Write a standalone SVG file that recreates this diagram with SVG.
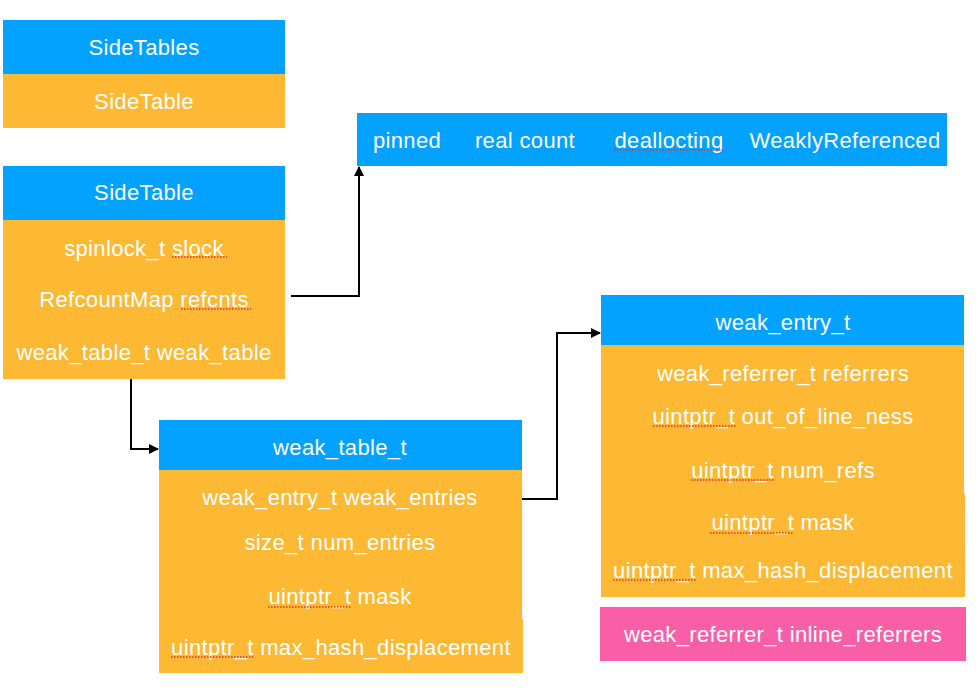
<svg xmlns="http://www.w3.org/2000/svg" width="980" height="698" viewBox="0 0 980 698">
<defs>
<style>
.b{fill:#02A2FE}
.o{fill:#FDB933}
.p{fill:#F85FA6}
text{font-family:"Liberation Sans",Arial,sans-serif;font-size:22px;letter-spacing:0.35px;fill:#fff;text-anchor:middle;dominant-baseline:central}
.sp{stroke:#E8332E;stroke-width:1.4;stroke-dasharray:1.5 1.5;fill:none}
.c{stroke:#000;stroke-width:2;fill:none}
</style>
<marker id="ah" viewBox="0 0 10 10" refX="9" refY="5" markerWidth="5" markerHeight="5" orient="auto-start-reverse" markerUnits="strokeWidth">
<path d="M0,0 L10,5 L0,10 z" fill="#000"/>
</marker>
</defs>
<rect width="980" height="698" fill="#fff"/>
<g id="sidetables">
<rect class="b" x="3" y="20" width="282" height="54"/>
<rect class="o" x="3" y="74" width="282" height="54"/>
<text x="144" y="47">SideTables</text>
<text x="144" y="101">SideTable</text>
</g>
<g id="sidetable">
<rect class="b" x="3" y="166" width="282" height="54"/>
<rect class="o" x="3" y="220" width="282" height="159"/>
<text x="144" y="192">SideTable</text>
<text x="144" y="248">spinlock_t slock</text>
<text x="144" y="299">RefcountMap refcnts</text>
<text x="144" y="352">weak_table_t weak_table</text>
<line class="sp" x1="172" y1="257" x2="227" y2="257"/>
<line class="sp" x1="181" y1="309" x2="251" y2="309"/>
</g>
<g id="bits">
<rect class="b" x="357" y="113" width="590" height="53"/>
<text x="407" y="140">pinned</text>
<text x="525" y="140">real count</text>
<text x="669" y="140">deallocting</text>
<text x="845" y="140">WeaklyReferenced</text>
<line class="sp" x1="614" y1="150" x2="724" y2="150"/>
</g>
<g id="weak_table_t">
<rect class="b" x="159" y="420" width="363" height="50"/>
<rect class="o" x="159" y="470" width="363" height="150"/>
<rect class="o" x="159" y="619" width="364" height="54"/>
<text x="340" y="447">weak_table_t</text>
<text x="340" y="497">weak_entry_t weak_entries</text>
<text x="340" y="542">size_t num_entries</text>
<text x="340" y="596">uintptr_t mask</text>
<text x="341" y="647">uintptr_t max_hash_displacement</text>
<line class="sp" x1="268" y1="607" x2="351" y2="607"/>
<line class="sp" x1="171" y1="657" x2="253" y2="657"/>
</g>
<g id="weak_entry_t">
<rect class="b" x="601" y="295" width="363" height="50"/>
<rect class="o" x="601" y="345" width="363" height="160"/>
<rect class="o" x="601" y="494" width="364" height="103"/>
<text x="783" y="322">weak_entry_t</text>
<text x="783" y="373">weak_referrer_t referrers</text>
<text x="783" y="416">uintptr_t out_of_line_ness</text>
<text x="783" y="470">uintptr_t num_refs</text>
<text x="783" y="522">uintptr_t mask</text>
<text x="783" y="570">uintptr_t max_hash_displacement</text>
<line class="sp" x1="653" y1="426" x2="737" y2="426"/>
<line class="sp" x1="691" y1="480" x2="774" y2="480"/>
<line class="sp" x1="710" y1="533" x2="793" y2="533"/>
<line class="sp" x1="613" y1="580" x2="696" y2="580"/>
</g>
<g id="inline_referrers">
<rect class="p" x="600" y="607" width="366" height="54"/>
<text x="783" y="634">weak_referrer_t inline_referrers</text>
</g>
<g id="connectors">
<polyline class="c" points="291,296 359,296 359,167" marker-end="url(#ah)"/>
<polyline class="c" points="131,379 131,449 158,449" marker-end="url(#ah)"/>
<polyline class="c" points="522,499 557,499 557,333 600,333" marker-end="url(#ah)"/>
</g>
</svg>
